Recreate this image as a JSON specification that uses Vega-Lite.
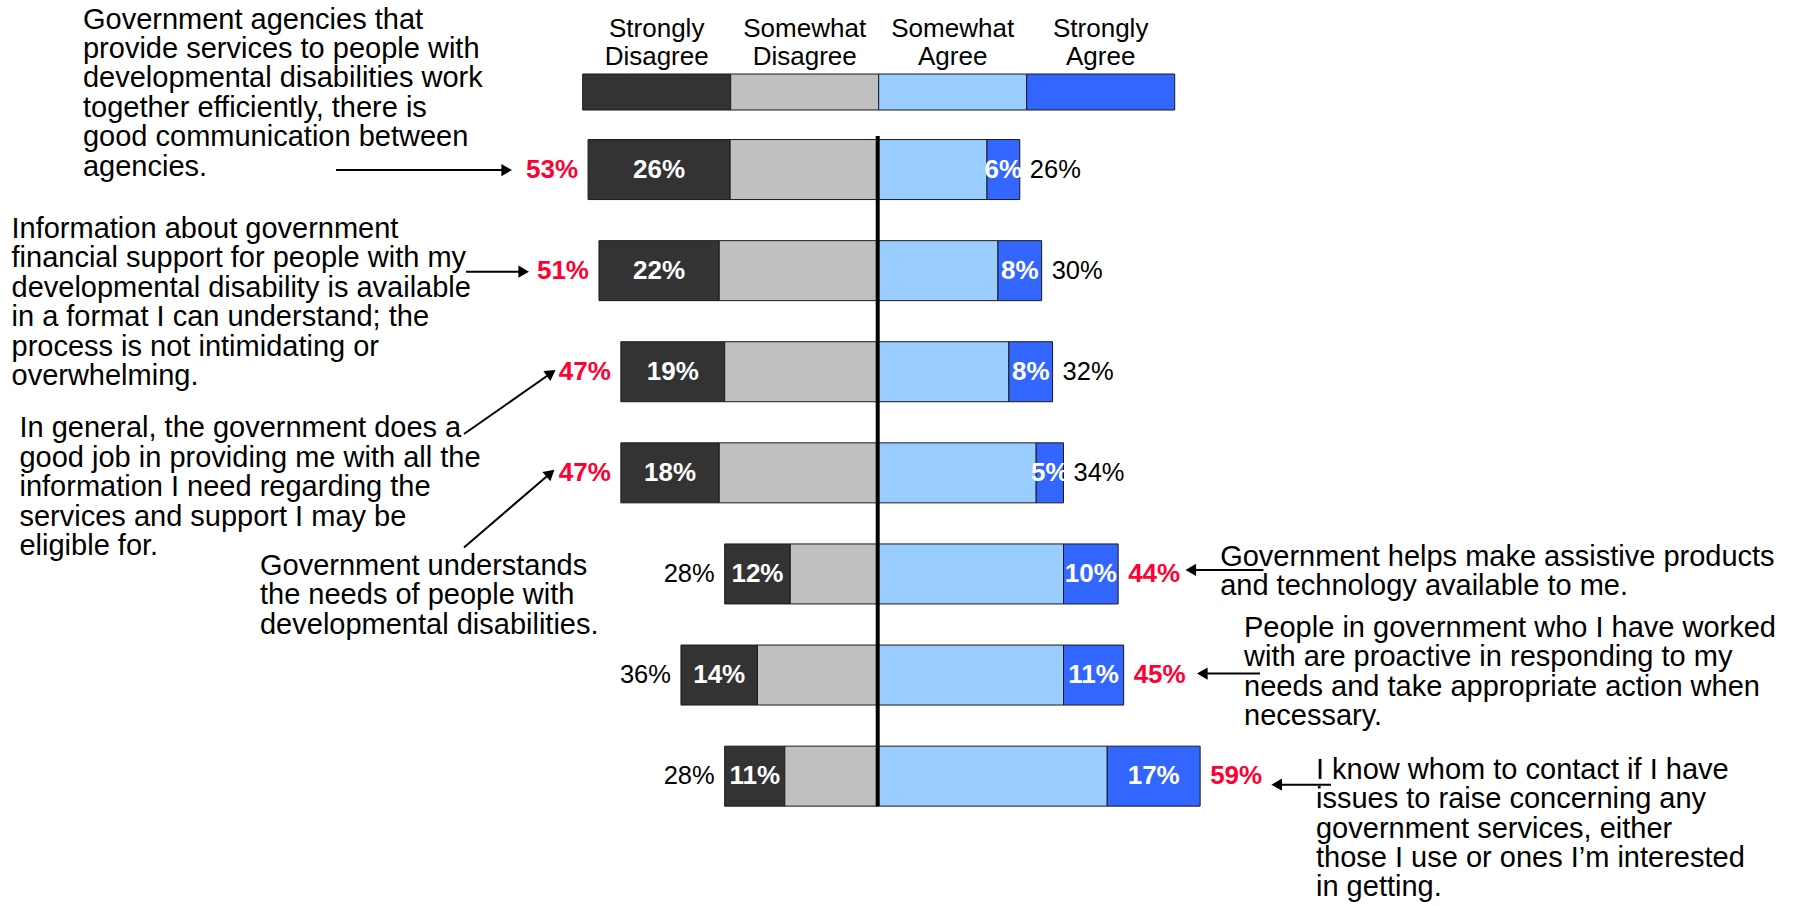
{
  "$schema": "https://vega.github.io/schema/vega-lite/v6.json",
  "width": 1796,
  "height": 906,
  "autosize": {"type": "none"},
  "padding": 0,
  "background": "white",
  "config": {"view": {"stroke": null}, "font": "Liberation Sans, Arial, sans-serif"},
  "datasets": {
    "survey": [
      {"q": "Q1", "cat": "Strongly Disagree", "value": 0.26},
      {"q": "Q1", "cat": "Somewhat Disagree", "value": 0.27},
      {"q": "Q1", "cat": "Somewhat Agree", "value": 0.20},
      {"q": "Q1", "cat": "Strongly Agree", "value": 0.06},
      {"q": "Q2", "cat": "Strongly Disagree", "value": 0.22},
      {"q": "Q2", "cat": "Somewhat Disagree", "value": 0.29},
      {"q": "Q2", "cat": "Somewhat Agree", "value": 0.22},
      {"q": "Q2", "cat": "Strongly Agree", "value": 0.08},
      {"q": "Q3", "cat": "Strongly Disagree", "value": 0.19},
      {"q": "Q3", "cat": "Somewhat Disagree", "value": 0.28},
      {"q": "Q3", "cat": "Somewhat Agree", "value": 0.24},
      {"q": "Q3", "cat": "Strongly Agree", "value": 0.08},
      {"q": "Q4", "cat": "Strongly Disagree", "value": 0.18},
      {"q": "Q4", "cat": "Somewhat Disagree", "value": 0.29},
      {"q": "Q4", "cat": "Somewhat Agree", "value": 0.29},
      {"q": "Q4", "cat": "Strongly Agree", "value": 0.05},
      {"q": "Q5", "cat": "Strongly Disagree", "value": 0.12},
      {"q": "Q5", "cat": "Somewhat Disagree", "value": 0.16},
      {"q": "Q5", "cat": "Somewhat Agree", "value": 0.34},
      {"q": "Q5", "cat": "Strongly Agree", "value": 0.10},
      {"q": "Q6", "cat": "Strongly Disagree", "value": 0.14},
      {"q": "Q6", "cat": "Somewhat Disagree", "value": 0.22},
      {"q": "Q6", "cat": "Somewhat Agree", "value": 0.34},
      {"q": "Q6", "cat": "Strongly Agree", "value": 0.11},
      {"q": "Q7", "cat": "Strongly Disagree", "value": 0.11},
      {"q": "Q7", "cat": "Somewhat Disagree", "value": 0.17},
      {"q": "Q7", "cat": "Somewhat Agree", "value": 0.42},
      {"q": "Q7", "cat": "Strongly Agree", "value": 0.17}
    ],
    "totals": [
      {"q": "Q1", "side": "disagree", "total": 0.53, "hl": true},
      {"q": "Q1", "side": "agree", "total": 0.26, "hl": false},
      {"q": "Q2", "side": "disagree", "total": 0.51, "hl": true},
      {"q": "Q2", "side": "agree", "total": 0.30, "hl": false},
      {"q": "Q3", "side": "disagree", "total": 0.47, "hl": true},
      {"q": "Q3", "side": "agree", "total": 0.32, "hl": false},
      {"q": "Q4", "side": "disagree", "total": 0.47, "hl": true},
      {"q": "Q4", "side": "agree", "total": 0.34, "hl": false},
      {"q": "Q5", "side": "disagree", "total": 0.28, "hl": false},
      {"q": "Q5", "side": "agree", "total": 0.44, "hl": true},
      {"q": "Q6", "side": "disagree", "total": 0.36, "hl": false},
      {"q": "Q6", "side": "agree", "total": 0.45, "hl": true},
      {"q": "Q7", "side": "disagree", "total": 0.28, "hl": false},
      {"q": "Q7", "side": "agree", "total": 0.59, "hl": true}
    ],
    "legend": [
      {"cat": "Strongly Disagree"},
      {"cat": "Somewhat Disagree"},
      {"cat": "Somewhat Agree"},
      {"cat": "Strongly Agree"}
    ],
    "notes": [
      {"q": "Q1", "lines": ["Government agencies that", "provide services to people with", "developmental disabilities work", "together efficiently, there is", "good communication between", "agencies."]},
      {"q": "Q2", "lines": ["Information about government", "financial support for people with my", "developmental disability is available", "in a format I can understand; the", "process is not  intimidating or", "overwhelming."]},
      {"q": "Q3", "lines": ["In general, the government does a", "good job in providing me with all the", "information I need regarding the", "services and support I may be", "eligible for."]},
      {"q": "Q4", "lines": ["Government understands", "the needs of people with", "developmental disabilities."]},
      {"q": "Q5", "lines": ["Government helps make assistive products", "and technology available to me."]},
      {"q": "Q6", "lines": ["People in government who I have worked", "with are proactive in responding to my", "needs and take appropriate action when", "necessary."]},
      {"q": "Q7", "lines": ["I know whom to contact if I have", "issues to raise concerning any", "government services, either", "those I use or ones I’m interested", "in getting."]}
    ]
  },
  "layer": [
    {
      "encoding": {"y": {"field": "q", "type": "nominal", "axis": null, "scale": {"domain": ["legend", "Q1", "Q2", "Q3", "Q4", "Q5", "Q6", "Q7"], "paddingInner": 0.4065, "paddingOuter": 0.684, "align": 0.278}}},
      "layer": [
        {
          "data": {"name": "survey"},
          "transform": [{"filter": {"field": "cat", "oneOf": ["Strongly Disagree", "Somewhat Disagree"]}}],
          "mark": {"type": "bar", "stroke": "#1a1a1a", "strokeWidth": 1},
          "encoding": {
            "x": {"field": "value", "type": "quantitative", "stack": "zero", "axis": null, "scale": {"domain": [-1.68033, 1.60604], "reverse": true, "nice": false, "zero": false}},
            "color": {"field": "cat", "type": "nominal", "legend": null, "scale": {"domain": ["Strongly Disagree", "Somewhat Disagree", "Somewhat Agree", "Strongly Agree"], "range": ["#333333", "#c0c0c0", "#99ccff", "#3366ff"]}},
            "order": {"field": "cat", "type": "nominal"}
          }
        },
        {
          "data": {"name": "survey"},
          "transform": [{"filter": {"field": "cat", "oneOf": ["Strongly Disagree", "Somewhat Disagree"]}}],
          "mark": {"type": "text", "color": "white", "fontWeight": "bold", "fontSize": 26, "baseline": "middle", "align": "center"},
          "encoding": {
            "x": {"field": "value", "type": "quantitative", "stack": "zero", "bandPosition": 0.5, "axis": null},
            "detail": {"field": "cat"},
            "order": {"field": "cat", "type": "nominal"},
            "text": {"condition": {"test": "datum.cat === 'Strongly Disagree'", "field": "value", "type": "quantitative", "format": ".0%"}, "value": ""}
          }
        },
        {
          "data": {"name": "totals"},
          "transform": [{"filter": "datum.side === 'disagree' && datum.hl"}],
          "mark": {"type": "text", "align": "right", "baseline": "middle", "dx": -10, "fontSize": 26, "fontWeight": "bold", "color": "#ff0033"},
          "encoding": {"x": {"field": "total", "type": "quantitative", "axis": null}, "text": {"field": "total", "type": "quantitative", "format": ".0%"}}
        },
        {
          "data": {"name": "totals"},
          "transform": [{"filter": "datum.side === 'disagree' && !datum.hl"}],
          "mark": {"type": "text", "align": "right", "baseline": "middle", "dx": -10, "fontSize": 25.5, "color": "black"},
          "encoding": {"x": {"field": "total", "type": "quantitative", "axis": null}, "text": {"field": "total", "type": "quantitative", "format": ".0%"}}
        }
      ]
    },
    {
      "encoding": {"y": {"field": "q", "type": "nominal", "axis": null, "scale": {"domain": ["legend", "Q1", "Q2", "Q3", "Q4", "Q5", "Q6", "Q7"], "paddingInner": 0.4065, "paddingOuter": 0.684, "align": 0.278}}},
      "layer": [
        {
          "data": {"name": "survey"},
          "transform": [{"filter": {"field": "cat", "oneOf": ["Somewhat Agree", "Strongly Agree"]}}],
          "mark": {"type": "bar", "stroke": "#1a1a1a", "strokeWidth": 1},
          "encoding": {
            "x": {"field": "value", "type": "quantitative", "stack": "zero", "axis": null, "scale": {"domain": [-1.60604, 1.68033], "nice": false, "zero": false}},
            "color": {"field": "cat", "type": "nominal", "legend": null},
            "order": {"field": "cat", "type": "nominal"}
          }
        },
        {
          "data": {"name": "survey"},
          "transform": [{"filter": {"field": "cat", "oneOf": ["Somewhat Agree", "Strongly Agree"]}}],
          "mark": {"type": "text", "color": "white", "fontWeight": "bold", "fontSize": 26, "baseline": "middle", "align": "center"},
          "encoding": {
            "x": {"field": "value", "type": "quantitative", "stack": "zero", "bandPosition": 0.5, "axis": null},
            "detail": {"field": "cat"},
            "order": {"field": "cat", "type": "nominal"},
            "text": {"condition": {"test": "datum.cat === 'Strongly Agree'", "field": "value", "type": "quantitative", "format": ".0%"}, "value": ""}
          }
        },
        {
          "data": {"name": "totals"},
          "transform": [{"filter": "datum.side === 'agree' && datum.hl"}],
          "mark": {"type": "text", "align": "left", "baseline": "middle", "dx": 10, "fontSize": 26, "fontWeight": "bold", "color": "#ff0033"},
          "encoding": {"x": {"field": "total", "type": "quantitative", "axis": null}, "text": {"field": "total", "type": "quantitative", "format": ".0%"}}
        },
        {
          "data": {"name": "totals"},
          "transform": [{"filter": "datum.side === 'agree' && !datum.hl"}],
          "mark": {"type": "text", "align": "left", "baseline": "middle", "dx": 10, "fontSize": 25.5, "color": "black"},
          "encoding": {"x": {"field": "total", "type": "quantitative", "axis": null}, "text": {"field": "total", "type": "quantitative", "format": ".0%"}}
        },
        {
          "data": {"values": [{"line": "zero"}]},
          "mark": {"type": "rule", "strokeWidth": 4, "color": "black", "yOffset": -33.5, "y2Offset": 30},
          "encoding": {"x": {"datum": 0, "axis": null}, "y": {"datum": "Q1", "type": "nominal", "axis": null}, "y2": {"datum": "Q7"}}
        },
        {
          "data": {"name": "notes"}, "transform": [{"filter": "datum.q === 'Q1'"}],
          "mark": {"type": "text", "align": "left", "baseline": "middle", "fontSize": 29, "lineHeight": 29.4, "dy": -150, "color": "black"},
          "encoding": {"x": {"datum": -1.4542, "axis": null}, "text": {"field": "lines", "type": "nominal"}}
        },
        {
          "data": {"name": "notes"}, "transform": [{"filter": "datum.q === 'Q2'"}],
          "mark": {"type": "text", "align": "left", "baseline": "middle", "fontSize": 29, "lineHeight": 29.4, "dy": -41.6, "color": "black"},
          "encoding": {"x": {"datum": -1.585, "axis": null}, "text": {"field": "lines", "type": "nominal"}}
        },
        {
          "data": {"name": "notes"}, "transform": [{"filter": "datum.q === 'Q3'"}],
          "mark": {"type": "text", "align": "left", "baseline": "middle", "fontSize": 29, "lineHeight": 29.4, "dy": 56.7, "color": "black"},
          "encoding": {"x": {"datum": -1.5704, "axis": null}, "text": {"field": "lines", "type": "nominal"}}
        },
        {
          "data": {"name": "notes"}, "transform": [{"filter": "datum.q === 'Q4'"}],
          "mark": {"type": "text", "align": "left", "baseline": "middle", "fontSize": 29, "lineHeight": 29.4, "dy": 93, "color": "black"},
          "encoding": {"x": {"datum": -1.1303, "axis": null}, "text": {"field": "lines", "type": "nominal"}}
        },
        {
          "data": {"name": "notes"}, "transform": [{"filter": "datum.q === 'Q5'"}],
          "mark": {"type": "text", "align": "left", "baseline": "middle", "fontSize": 29, "lineHeight": 29.4, "dy": -17.2, "color": "black"},
          "encoding": {"x": {"datum": 0.6266, "axis": null}, "text": {"field": "lines", "type": "nominal"}}
        },
        {
          "data": {"name": "notes"}, "transform": [{"filter": "datum.q === 'Q6'"}],
          "mark": {"type": "text", "align": "left", "baseline": "middle", "fontSize": 29, "lineHeight": 29.4, "dy": -47.3, "color": "black"},
          "encoding": {"x": {"datum": 0.6703, "axis": null}, "text": {"field": "lines", "type": "nominal"}}
        },
        {
          "data": {"name": "notes"}, "transform": [{"filter": "datum.q === 'Q7'"}],
          "mark": {"type": "text", "align": "left", "baseline": "middle", "fontSize": 29, "lineHeight": 29.4, "dy": -6.4, "color": "black"},
          "encoding": {"x": {"datum": 0.802, "axis": null}, "text": {"field": "lines", "type": "nominal"}}
        },
        {
          "data": {"name": "notes"}, "transform": [{"filter": "datum.q === 'Q1'"}],
          "mark": {"type": "rule", "strokeWidth": 2, "color": "black", "yOffset": 0.5},
          "encoding": {"x": {"datum": -0.9912, "axis": null}, "x2": {"datum": -0.6789}}
        },
        {
          "data": {"name": "notes"}, "transform": [{"filter": "datum.q === 'Q1'"}],
          "mark": {"type": "point", "shape": "triangle-right", "filled": true, "size": 150, "color": "black", "opacity": 1, "yOffset": 0.5},
          "encoding": {"x": {"datum": -0.6789, "axis": null}}
        },
        {
          "data": {"name": "notes"}, "transform": [{"filter": "datum.q === 'Q2'"}],
          "mark": {"type": "rule", "strokeWidth": 2, "color": "black", "yOffset": 1},
          "encoding": {"x": {"datum": -0.7534, "axis": null}, "x2": {"datum": -0.6478}}
        },
        {
          "data": {"name": "notes"}, "transform": [{"filter": "datum.q === 'Q2'"}],
          "mark": {"type": "point", "shape": "triangle-right", "filled": true, "size": 150, "color": "black", "opacity": 1, "yOffset": 1},
          "encoding": {"x": {"datum": -0.6478, "axis": null}}
        },
        {
          "data": {"name": "notes"}, "transform": [{"filter": "datum.q === 'Q3'"}],
          "mark": {"type": "rule", "strokeWidth": 2, "color": "black", "yOffset": 62.3, "y2Offset": 1.3},
          "encoding": {"x": {"datum": -0.757, "axis": null}, "x2": {"datum": -0.5974}, "y2": {"field": "q"}}
        },
        {
          "data": {"name": "notes"}, "transform": [{"filter": "datum.q === 'Q3'"}],
          "mark": {"type": "point", "shape": "triangle-right", "filled": true, "size": 150, "color": "black", "opacity": 1, "angle": -35, "yOffset": 1.3},
          "encoding": {"x": {"datum": -0.5974, "axis": null}}
        },
        {
          "data": {"name": "notes"}, "transform": [{"filter": "datum.q === 'Q4'"}],
          "mark": {"type": "rule", "strokeWidth": 2, "color": "black", "yOffset": 74.7, "y2Offset": 0.3},
          "encoding": {"x": {"datum": -0.757, "axis": null}, "x2": {"datum": -0.5989}, "y2": {"field": "q"}}
        },
        {
          "data": {"name": "notes"}, "transform": [{"filter": "datum.q === 'Q4'"}],
          "mark": {"type": "point", "shape": "triangle-right", "filled": true, "size": 150, "color": "black", "opacity": 1, "angle": -40.8, "yOffset": 0.3},
          "encoding": {"x": {"datum": -0.5989, "axis": null}}
        },
        {
          "data": {"name": "notes"}, "transform": [{"filter": "datum.q === 'Q5'"}],
          "mark": {"type": "rule", "strokeWidth": 2, "color": "black", "yOffset": -4},
          "encoding": {"x": {"datum": 0.7058, "axis": null}, "x2": {"datum": 0.5729}}
        },
        {
          "data": {"name": "notes"}, "transform": [{"filter": "datum.q === 'Q5'"}],
          "mark": {"type": "point", "shape": "triangle-left", "filled": true, "size": 150, "color": "black", "opacity": 1, "yOffset": -4},
          "encoding": {"x": {"datum": 0.5729, "axis": null}}
        },
        {
          "data": {"name": "notes"}, "transform": [{"filter": "datum.q === 'Q6'"}],
          "mark": {"type": "rule", "strokeWidth": 2, "color": "black", "yOffset": -1.5},
          "encoding": {"x": {"datum": 0.6996, "axis": null}, "x2": {"datum": 0.594}}
        },
        {
          "data": {"name": "notes"}, "transform": [{"filter": "datum.q === 'Q6'"}],
          "mark": {"type": "point", "shape": "triangle-left", "filled": true, "size": 150, "color": "black", "opacity": 1, "yOffset": -1.5},
          "encoding": {"x": {"datum": 0.594, "axis": null}}
        },
        {
          "data": {"name": "notes"}, "transform": [{"filter": "datum.q === 'Q7'"}],
          "mark": {"type": "rule", "strokeWidth": 2, "color": "black", "yOffset": 8.5},
          "encoding": {"x": {"datum": 0.8295, "axis": null}, "x2": {"datum": 0.7301}}
        },
        {
          "data": {"name": "notes"}, "transform": [{"filter": "datum.q === 'Q7'"}],
          "mark": {"type": "point", "shape": "triangle-left", "filled": true, "size": 150, "color": "black", "opacity": 1, "yOffset": 8.5},
          "encoding": {"x": {"datum": 0.7301, "axis": null}}
        }
      ]
    },
    {
      "data": {"name": "legend"},
      "transform": [{"window": [{"op": "row_number", "as": "rank"}]}],
      "encoding": {
        "x": {"aggregate": "count", "type": "quantitative", "stack": "zero", "axis": null, "scale": {"domain": [-3.937, 8.198], "nice": false, "zero": false}},
        "y": {"datum": "legend", "type": "nominal", "axis": null, "scale": {"domain": ["legend"], "paddingInner": 0.91724, "paddingOuter": 1, "align": 0.08506}},
        "order": {"field": "rank", "type": "quantitative"}
      },
      "layer": [
        {
          "mark": {"type": "bar", "stroke": "#1a1a1a", "strokeWidth": 1},
          "encoding": {"color": {"field": "cat", "type": "nominal", "legend": null}}
        },
        {
          "mark": {"type": "text", "lineBreak": " ", "fontSize": 26, "lineHeight": 28.3, "baseline": "alphabetic", "align": "center", "dy": -55.3, "color": "black"},
          "encoding": {
            "x": {"aggregate": "count", "type": "quantitative", "stack": "zero", "bandPosition": 0.5, "axis": null},
            "detail": {"field": "cat"},
            "text": {"field": "cat", "type": "nominal"}
          }
        }
      ]
    }
  ],
  "resolve": {"scale": {"x": "independent", "y": "independent"}}
}
